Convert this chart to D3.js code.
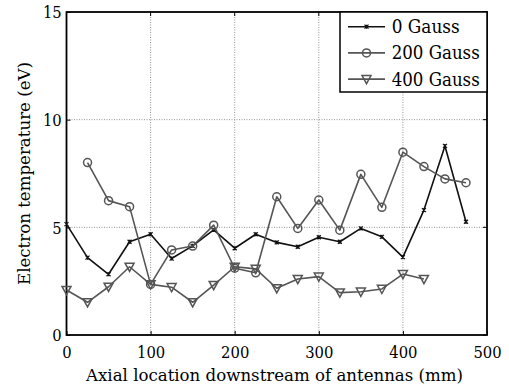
<!DOCTYPE html>
<html>
<head>
<meta charset="utf-8">
<script src="https://cdn.jsdelivr.net/npm/d3@7"></script>
<style>
  html, body { margin: 0; padding: 0; background: #fff; }
  svg { display: block; }
</style>
</head>
<body>
<svg id="chart" width="509" height="388"></svg>
<script>
// Axial positions (mm)
const positions = [0, 25, 50, 75, 100, 125, 150, 175, 200, 225, 250, 275, 300, 325, 350, 375, 400, 425, 450, 475];

// Electron temperature (eV) per magnetic field setting
const gauss0 = [5.15, 3.59, 2.82, 4.33, 4.68, 3.55, 4.14, 4.88, 4.03, 4.68, 4.30, 4.10, 4.54, 4.33, 4.95, 4.56, 3.62, 5.80, 8.78, 5.26];
const gauss200 = [null, 8.01, 6.24, 5.96, 2.35, 3.95, 4.13, 5.10, 3.10, 2.89, 6.42, 4.95, 6.27, 4.87, 7.46, 5.93, 8.49, 7.82, 7.25, 7.07];
const gauss400 = [2.09, 1.52, 2.24, 3.17, 2.35, 2.22, 1.52, 2.32, 3.17, 3.07, 2.17, 2.60, 2.71, 1.97, 2.01, 2.14, 2.83, 2.60, null, null];

const seriesNames = ["0 Gauss", "200 Gauss", "400 Gauss"];
const xTicks = [0, 100, 200, 300, 400, 500];
const yTicks = [0, 5, 10, 15];

const FONT = "'DejaVu Serif', serif";

const svg = d3.select("#chart").attr("font-family", FONT);
const plotLeft = 66.5, plotRight = 487, plotTop = 12, plotBottom = 335;

const x = d3.scaleLinear().domain([0, 500]).range([plotLeft, plotRight]);
const y = d3.scaleLinear().domain([0, 15]).range([plotBottom, plotTop]);

// Condense the wide serif face to Times-like proportions
function condense(sel, len) {
  sel.attr("textLength", len).attr("lengthAdjust", "spacingAndGlyphs");
}

// Grid lines (dotted)
const grid = svg.append("g");
grid.selectAll(".gx").data(xTicks.slice(1, -1)).join("line")
  .attr("x1", d => x(d)).attr("x2", d => x(d))
  .attr("y1", plotTop).attr("y2", plotBottom)
  .attr("stroke", "#777").attr("stroke-width", 0.8).attr("stroke-dasharray", "1,1.5");
grid.selectAll(".gy").data(yTicks.slice(1, -1)).join("line")
  .attr("x1", plotLeft).attr("x2", plotRight)
  .attr("y1", d => y(d)).attr("y2", d => y(d))
  .attr("stroke", "#777").attr("stroke-width", 0.8).attr("stroke-dasharray", "1,1.5");

// Axes with inward ticks
const xAxis = svg.append("g").attr("transform", `translate(0,${plotBottom})`)
  .call(d3.axisBottom(x).tickValues(xTicks).tickSize(-4).tickPadding(9).tickFormat(d3.format("d")));
const yAxis = svg.append("g").attr("transform", `translate(${plotLeft},0)`)
  .call(d3.axisLeft(y).tickValues(yTicks).tickSize(-4).tickPadding(5).tickFormat(d3.format("d")));
[xAxis, yAxis].forEach(a => {
  a.attr("font-family", FONT);
  a.select(".domain").remove();
  a.selectAll(".tick line").attr("stroke", "#000").attr("stroke-width", 1);
  a.selectAll(".tick text").style("font-family", FONT).style("font-size", "16px").attr("fill", "#000")
    .each(function (d) { condense(d3.select(this), 9.4 * String(d).length); });
});
xAxis.selectAll(".tick text").attr("y", 23.3).attr("dy", 0);
yAxis.selectAll(".tick text").attr("x", -4.8).attr("dy", "0.36em");

// Top / right ticks mirrored
svg.append("g").selectAll("line").data(xTicks).join("line")
  .attr("x1", d => x(d)).attr("x2", d => x(d)).attr("y1", plotTop).attr("y2", plotTop + 4)
  .attr("stroke", "#000");
svg.append("g").selectAll("line").data(yTicks).join("line")
  .attr("x1", plotRight).attr("x2", plotRight - 4).attr("y1", d => y(d)).attr("y2", d => y(d))
  .attr("stroke", "#000");

// Plot frame
svg.append("rect").attr("x", plotLeft).attr("y", plotTop)
  .attr("width", plotRight - plotLeft).attr("height", plotBottom - plotTop)
  .attr("fill", "none").attr("stroke", "#000").attr("stroke-width", 1.8);

// Series
const series = [
  { name: seriesNames[0], values: gauss0, color: "#111", marker: "x", labelLen: 68 },
  { name: seriesNames[1], values: gauss200, color: "#555", marker: "o", labelLen: 88 },
  { name: seriesNames[2], values: gauss400, color: "#555", marker: "v", labelLen: 88 }
];

function drawMarker(g, type, cx, cy, color) {
  if (type === "x") {
    const s = 2;
    g.append("path")
      .attr("d", `M${cx - s},${cy - s}L${cx + s},${cy + s}M${cx - s},${cy + s}L${cx + s},${cy - s}M${cx},${cy - s}L${cx},${cy + s}`)
      .attr("stroke", color).attr("stroke-width", 1.2).attr("fill", "none");
  } else if (type === "o") {
    g.append("circle").attr("cx", cx).attr("cy", cy).attr("r", 4)
      .attr("stroke", color).attr("stroke-width", 1.5).attr("fill", "none");
  } else {
    const w = 4.5, h = 3.6;
    g.append("path")
      .attr("d", `M${cx - w},${cy - h}L${cx + w},${cy - h}L${cx},${cy + h + 1}Z`)
      .attr("stroke", color).attr("stroke-width", 1.5).attr("fill", "none")
      .attr("stroke-linejoin", "miter");
  }
}

const line = d3.line()
  .defined(d => d.v !== null)
  .x(d => x(d.p)).y(d => y(d.v));

series.forEach(s => {
  const pts = positions.map((p, i) => ({ p, v: s.values[i] }));
  const g = svg.append("g");
  g.append("path").datum(pts).attr("d", line)
    .attr("fill", "none").attr("stroke", s.color).attr("stroke-width", 1.6)
    .attr("stroke-linejoin", "round");
  pts.filter(d => d.v !== null).forEach(d => drawMarker(g, s.marker, x(d.p), y(d.v), s.color));
});

// Legend
const lg = svg.append("g");
lg.append("rect").attr("x", 340).attr("y", plotTop).attr("width", plotRight - 340).attr("height", 80)
  .attr("fill", "#fff").attr("stroke", "#000").attr("stroke-width", 1.5);
series.forEach((s, i) => {
  const cy = 26.7 + i * 26.2;
  lg.append("line").attr("x1", 348).attr("x2", 385).attr("y1", cy).attr("y2", cy)
    .attr("stroke", s.color).attr("stroke-width", 1.6);
  drawMarker(lg, s.marker, 366.5, cy, s.color);
  const t = lg.append("text").attr("x", 391.7).attr("y", cy).attr("dy", "0.36em")
    .style("font-family", FONT).style("font-size", "18px").attr("fill", "#000").text(s.name);
  condense(t, s.labelLen);
});

// Axis titles
condense(svg.append("text").attr("x", 274.5).attr("y", 380.5)
  .attr("text-anchor", "middle").style("font-family", FONT).style("font-size", "17px").attr("fill", "#000")
  .text("Axial location downstream of antennas (mm)"), 377);
condense(svg.append("text").attr("transform", `translate(30,173.5) rotate(-90)`)
  .attr("text-anchor", "middle").style("font-family", FONT).style("font-size", "17px").attr("fill", "#000")
  .text("Electron temperature (eV)"), 223);
</script>
</body>
</html>
